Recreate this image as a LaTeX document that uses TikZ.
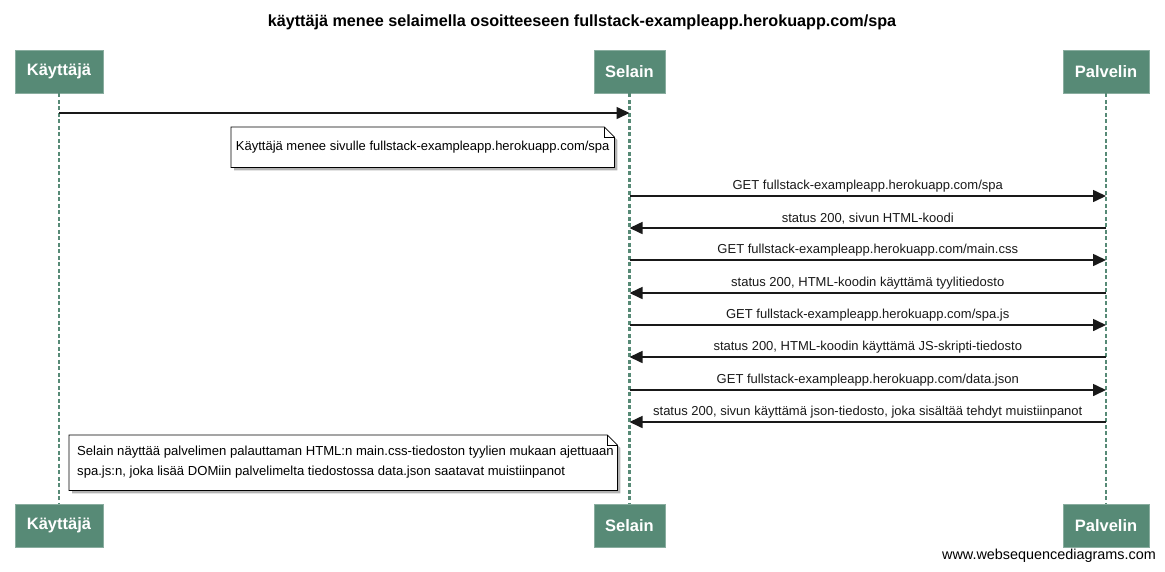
\documentclass[tikz,border=0pt]{standalone}
\usepackage{fontspec}
\setmainfont{Liberation Sans}
\usetikzlibrary{arrows.meta,shadows}
\definecolor{actorgreen}{HTML}{578A76}
\tikzset{
  actor/.style={rectangle, fill=actorgreen, draw=actorgreen!70!white, line width=0.8pt,
    minimum height=43pt, text=white, font=\bfseries\fontsize{16.5}{18}\selectfont, inner sep=0pt},
  lifeline/.style={actorgreen, line width=2.8pt, dash pattern=on 4pt off 2.5pt},
  msg/.style={-{Triangle[length=13pt,width=12pt]}, line width=1.6pt, black!90},
  msglabel/.style={font=\fontsize{13}{15}\selectfont, inner sep=0pt},
  notebox/.style={fill=white, draw=black, line width=0.8pt,
    drop shadow={shadow xshift=3pt, shadow yshift=-3pt, opacity=0.6}},
}
\begin{document}
\begin{tikzpicture}[x=1pt, y=-1pt]
  \useasboundingbox (0,0) rectangle (1165,571);

  \node[font=\bfseries\fontsize{16.2}{18}\selectfont] (title) at (582,22)
    {käyttäjä menee selaimella osoitteeseen fullstack-exampleapp.herokuapp.com/spa};

  % participants
  \begin{scope}[every node/.style={actor}]
    \node[minimum width=88pt] (kt) at (59,71.5) {Käyttäjä} ;
    \node[minimum width=71pt] (st) at (629.5,71.5) {Selain} ;
    \node[minimum width=86pt] (pt) at (1106,71.5) {Palvelin} ;
    \node[minimum width=88pt] (kb) at (59,525.5) {Käyttäjä} ;
    \node[minimum width=71pt] (sb) at (629.5,525.5) {Selain} ;
    \node[minimum width=86pt] (pb) at (1106,525.5) {Palvelin} ;
  \end{scope}

  \begin{scope}[lifeline]
    \draw (kt) to (kb);
    \draw (st) to (sb);
    \draw (pt) to (pb);
  \end{scope}

  % message end points
  \foreach \n/\y in {0/113,1/196,2/228,3/260,4/293,5/325,6/357,7/390,8/422} {
    \coordinate (k\n) at (59,\y);
    \coordinate (s\n) at (629.5,\y);
    \coordinate (p\n) at (1106,\y);
  }

  \begin{scope}[msg]
    \draw (k0) to (s0);
    \draw (s1) to node[msglabel, above=3.5pt] {GET fullstack-exampleapp.herokuapp.com/spa} (p1);
    \draw (p2) to node[msglabel, above=3.5pt] {status 200, sivun HTML-koodi} (s2);
    \draw (s3) to node[msglabel, above=3.5pt] {GET fullstack-exampleapp.herokuapp.com/main.css} (p3);
    \draw (p4) to node[msglabel, above=3.5pt] {status 200, HTML-koodin käyttämä tyylitiedosto} (s4);
    \draw (s5) to node[msglabel, above=3.5pt] {GET fullstack-exampleapp.herokuapp.com/spa.js} (p5);
    \draw (p6) to node[msglabel, above=3.5pt] {status 200, HTML-koodin käyttämä JS-skripti-tiedosto} (s6);
    \draw (s7) to node[msglabel, above=3.5pt] {GET fullstack-exampleapp.herokuapp.com/data.json} (p7);
    \draw (p8) to node[msglabel, above=3.5pt] {status 200, sivun käyttämä json-tiedosto, joka sisältää tehdyt muistiinpanot} (s8);
  \end{scope}

  % notes
  \node[msglabel, minimum width=383pt, minimum height=40pt, anchor=north west] (note1) at (231,127) {};
  \filldraw[notebox] (note1.south west) -- (note1.north west) -- ([xshift=-10pt]note1.north east)
    -- ([yshift=-10pt]note1.north east) -- (note1.south east) -- cycle;
  \draw[line width=0.8pt] ([xshift=-10pt]note1.north east) -- ([xshift=-10pt,yshift=-10pt]note1.north east)
    -- ([yshift=-10pt]note1.north east);
  \node[msglabel] (text1) at ([xshift=0pt]note1.center)
    {Käyttäjä menee sivulle fullstack-exampleapp.herokuapp.com/spa};

  \node[msglabel, minimum width=548pt, minimum height=55pt, anchor=north west] (note2) at (69,435) {};
  \filldraw[notebox] (note2.south west) -- (note2.north west) -- ([xshift=-10pt]note2.north east)
    -- ([yshift=-10pt]note2.north east) -- (note2.south east) -- cycle;
  \draw[line width=0.8pt] ([xshift=-10pt]note2.north east) -- ([xshift=-10pt,yshift=-10pt]note2.north east)
    -- ([yshift=-10pt]note2.north east);
  \node[msglabel, align=left, anchor=west, font=\fontsize{13.1}{20}\selectfont] (text2) at ([xshift=8pt,yshift=1pt]note2.west)
    {Selain näyttää palvelimen palauttaman HTML:n main.css-tiedoston tyylien mukaan ajettuaan\\
     spa.js:n, joka lisää DOMiin palvelimelta tiedostossa data.json saatavat muistiinpanot};

  \node[msglabel, font=\fontsize{14.4}{16}\selectfont] (wsd) at (1049,556) {www.websequencediagrams.com};
\end{tikzpicture}
\end{document}
